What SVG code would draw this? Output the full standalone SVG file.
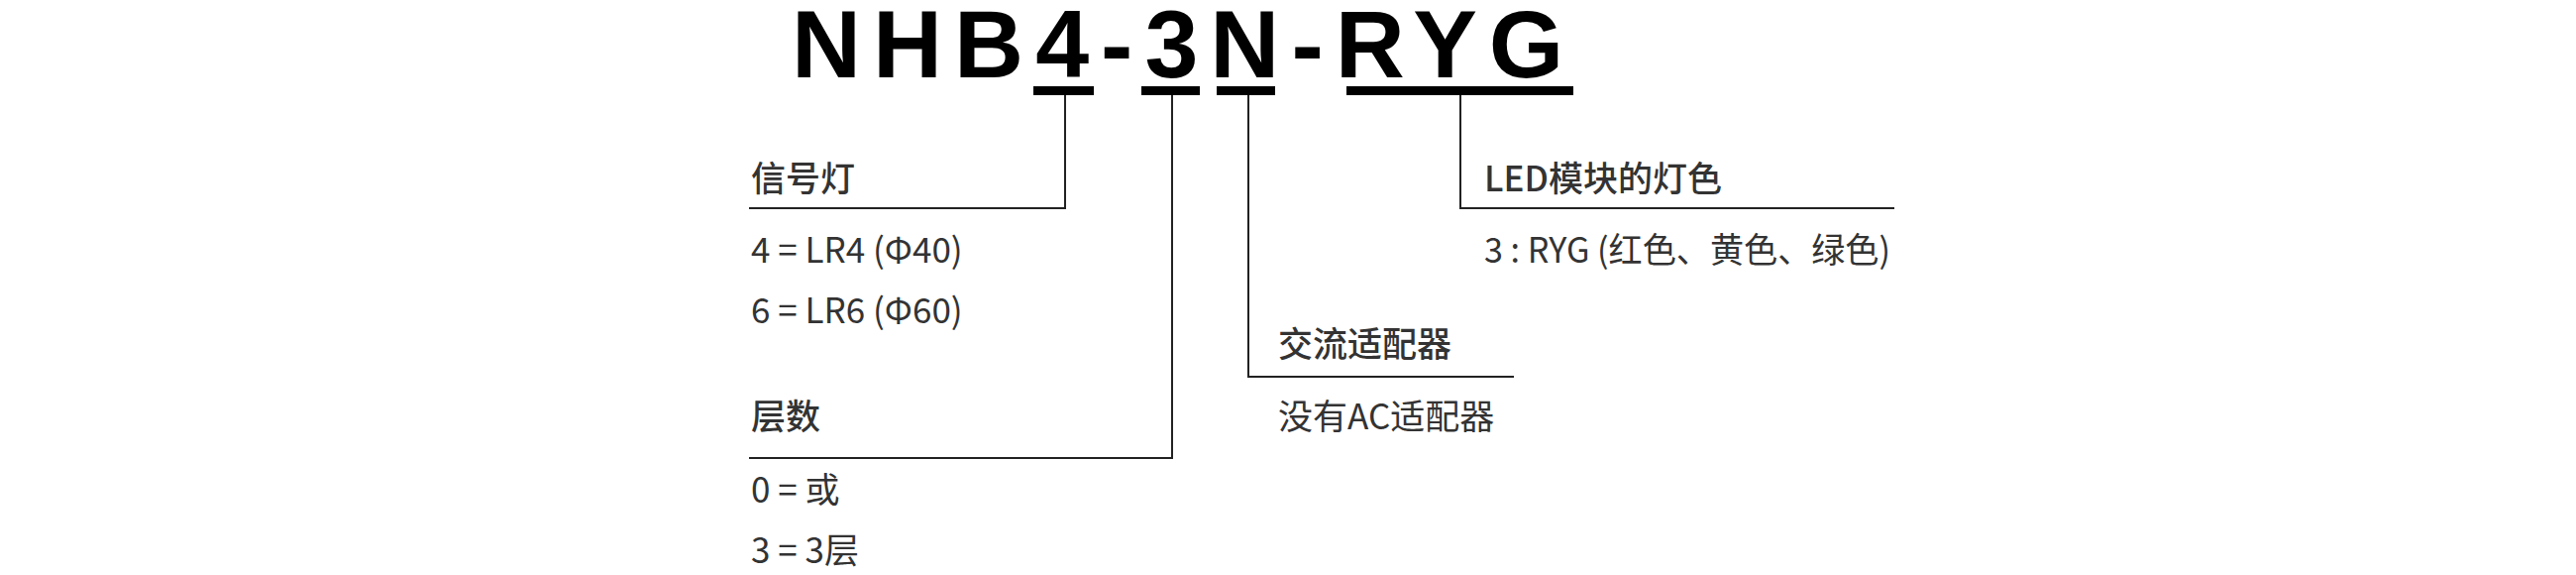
<svg xmlns="http://www.w3.org/2000/svg" width="2600" height="580" viewBox="0 0 2600 580">
<style>
.t{font-family:"Liberation Sans",Arial,sans-serif;font-weight:bold;font-size:97px;fill:#000;letter-spacing:12px}
.h{font-family:"Noto Sans CJK SC","Noto Sans",sans-serif;font-weight:500;font-size:35px;fill:#333}
.v{font-family:"Noto Sans CJK SC","Noto Sans",sans-serif;font-weight:400;font-size:35px;fill:#333}
.bar{fill:#000}
.ln{fill:none;stroke:#222;stroke-width:2}
</style>
<rect width="2600" height="580" fill="#fff"/>
<g id="title"><text class="t" x="799" y="78">NHB4-3N-RYG</text>
<rect class="bar" x="1043" y="87" width="61" height="9"/>
<rect class="bar" x="1152" y="87" width="59" height="9"/>
<rect class="bar" x="1228" y="87" width="59" height="9"/>
<rect class="bar" x="1359" y="87" width="229" height="9"/>
</g>
<g id="connectors">
<polyline class="ln" points="1075,96 1075,210 756,210"/>
<polyline class="ln" points="1183,96 1183,462 756,462"/>
<polyline class="ln" points="1260,96 1260,380 1528,380"/>
<polyline class="ln" points="1474,96 1474,210 1912,210"/>
</g>
<g id="node-lamp"><text class="h" x="758" y="193">信号灯</text>
<text class="v" x="758" y="265">4 = LR4 (Φ40)</text>
<text class="v" x="758" y="326">6 = LR6 (Φ60)</text></g>
<g id="node-tiers"><text class="h" x="758" y="433">层数</text>
<text class="v" x="758" y="507">0 = 或</text>
<text class="v" x="758" y="568">3 = 3层</text></g>
<g id="node-ac"><text class="h" x="1290" y="360">交流适配器</text>
<text class="v" x="1290" y="433">没有AC适配器</text></g>
<g id="node-led"><text class="h" x="1498" y="193">LED模块的灯色</text>
<text class="v" x="1498" y="265" textLength="410" lengthAdjust="spacingAndGlyphs">3 : RYG (红色、黄色、绿色)</text></g>
</svg>
